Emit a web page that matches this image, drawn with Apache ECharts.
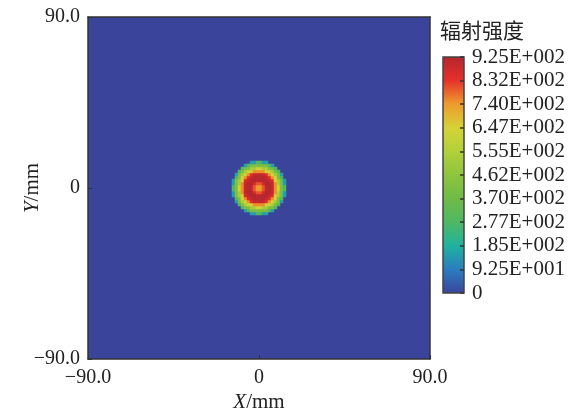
<!DOCTYPE html>
<html>
<head>
<meta charset="utf-8">
<script src="https://cdn.jsdelivr.net/npm/echarts@6/dist/echarts.min.js"></script>
<style>html,body{margin:0;padding:0;background:#fff;}#c{width:574px;height:414px;}</style>
</head>
<body>
<div id="c"></div>
<script>
// ---- data ----
// radial irradiance profile of the spot (value at radius r in mm, step 1 mm)
var profileRadiusMm = [0, 1, 2, 3, 4, 5, 6, 7, 8, 9, 10, 11, 12, 13, 14];
var profileValue    = [720, 740, 800, 870, 910, 925, 915, 895, 850, 750, 640, 530, 410, 290, 150];
var gridCells = 114;            // cells per side of the detector grid
var axisRange = [-90, 90];      // mm
var xTickLabels = ['\u221290.0', '0', '90.0'];
var yTickLabels = ['\u221290.0', '0', '90.0'];
var colorbarLabels = ['0', '9.25E+001', '1.85E+002', '2.77E+002', '3.70E+002', '4.62E+002',
  '5.55E+002', '6.47E+002', '7.40E+002', '8.32E+002', '9.25E+002'];
var colorbarMax = 925;
var colorStops = ['#3a449a', '#2b7cc0', '#1fb2a0', '#4eb864', '#6fbb46', '#8ec43f',
  '#b2d13b', '#d6d236', '#ee9a2e', '#e5302a', '#b3262f'];

// ---- build heatmap cells from the profile (zero cells show the grid background) ----
var cellSize = (axisRange[1] - axisRange[0]) / gridCells;
var cats = [];
for (var i = 0; i < gridCells; i++) cats.push(i);
var heat = [];
for (var ix = 0; ix < gridCells; ix++) {
  var x = axisRange[0] + (ix + 0.5) * cellSize;
  for (var iy = 0; iy < gridCells; iy++) {
    var y = axisRange[0] + (iy + 0.5) * cellSize;
    var r = Math.sqrt(x * x + y * y);
    var k = Math.round(r);
    if (k < profileValue.length) heat.push([ix, iy, profileValue[k]]);
  }
}

var gradStops = colorStops.map(function (c, i) {
  return {offset: i / (colorStops.length - 1), color: c};
});

var font = '"Liberation Serif", "Times New Roman", serif';
var fs = 20;
var lineCol = '#333';
function borderAxis(extra) {
  var a = {type: 'value', gridIndex: 0, min: axisRange[0], max: axisRange[1], z: 12,
    splitLine: {show: false}, axisLabel: {show: false}, axisTick: {show: false},
    axisLine: {show: true, onZero: false, lineStyle: {color: lineCol, width: 1.5}}};
  for (var key in extra) a[key] = extra[key];
  return a;
}
var chart = echarts.init(document.getElementById('c'), null, {renderer: 'canvas'});
chart.setOption({
  animation: false,
  backgroundColor: '#fff',
  title: {
    text: '辐射强度', left: 435, top: 15,
    textStyle: {fontFamily: '"Noto Sans CJK SC", sans-serif', fontSize: 21, fontWeight: 'normal', color: '#222'}
  },
  grid: [
    {left: 88, top: 17, width: 342, height: 342, show: true, z: 0, outerBoundsMode: 'none',
     containLabel: false, backgroundColor: colorStops[0], borderWidth: 0},
    {left: 443, top: 57, width: 21, height: 236, show: true, z: 0, outerBoundsMode: 'none',
     containLabel: false,
     backgroundColor: new echarts.graphic.LinearGradient(0, 1, 0, 0, gradStops),
     borderColor: '#444', borderWidth: 1.5}
  ],
  xAxis: [
    {type: 'category', gridIndex: 0, data: cats, show: false},
    {type: 'value', gridIndex: 0, min: axisRange[0], max: axisRange[1], interval: 90,
     position: 'bottom', splitLine: {show: false}, z: 12,
     axisLine: {show: true, onZero: false, lineStyle: {color: lineCol, width: 1.5}},
     axisTick: {show: true, inside: true, length: 4, lineStyle: {color: lineCol}},
     axisLabel: {margin: 9, fontFamily: font, fontSize: fs, color: '#222',
       formatter: function (v) { return xTickLabels[Math.round((v - axisRange[0]) / 90)]; }},
     name: '{i|X}/mm', nameLocation: 'middle', nameGap: 33, nameMoveOverlap: false,
     nameTextStyle: {fontFamily: font, fontSize: 21, color: '#222',
       rich: {i: {fontFamily: font, fontSize: 21, fontStyle: 'italic', color: '#222'}}}},
    {type: 'value', gridIndex: 1, show: false, min: 0, max: 1},
    borderAxis({position: 'top'})
  ],
  yAxis: [
    {type: 'category', gridIndex: 0, data: cats, show: false},
    {type: 'value', gridIndex: 0, min: axisRange[0], max: axisRange[1], interval: 90,
     position: 'left', splitLine: {show: false}, z: 12,
     axisLine: {show: true, onZero: false, lineStyle: {color: lineCol, width: 1.5}},
     axisTick: {show: true, inside: true, length: 4, lineStyle: {color: lineCol}},
     axisLabel: {margin: 8, fontFamily: font, fontSize: fs, color: '#222',
       formatter: function (v) { return yTickLabels[Math.round((v - axisRange[0]) / 90)]; }},
     name: '{i|Y}/mm', nameLocation: 'middle', nameGap: 45, nameRotate: 90, nameMoveOverlap: false,
     nameTextStyle: {fontFamily: font, fontSize: 21, color: '#222',
       rich: {i: {fontFamily: font, fontSize: 21, fontStyle: 'italic', color: '#222'}}}},
    {type: 'value', gridIndex: 1, min: 0, max: colorbarMax, interval: colorbarMax / 10,
     position: 'right', splitLine: {show: false}, z: 5,
     axisLine: {show: false, onZero: false},
     axisTick: {show: true, inside: true, length: 4, lineStyle: {color: '#333', width: 1.5}},
     axisLabel: {margin: 8, fontFamily: font, fontSize: 21, color: '#222',
       formatter: function (v) { return colorbarLabels[Math.round(v / (colorbarMax / 10))]; }}},
    borderAxis({position: 'right'})
  ],
  visualMap: {
    type: 'continuous', min: 0, max: colorbarMax, seriesIndex: 0,
    show: false, inRange: {color: colorStops}
  },
  series: [{
    type: 'heatmap', xAxisIndex: 0, yAxisIndex: 0, data: heat,
    progressive: 0, emphasis: {disabled: true}
  }]
});
</script>
</body>
</html>
